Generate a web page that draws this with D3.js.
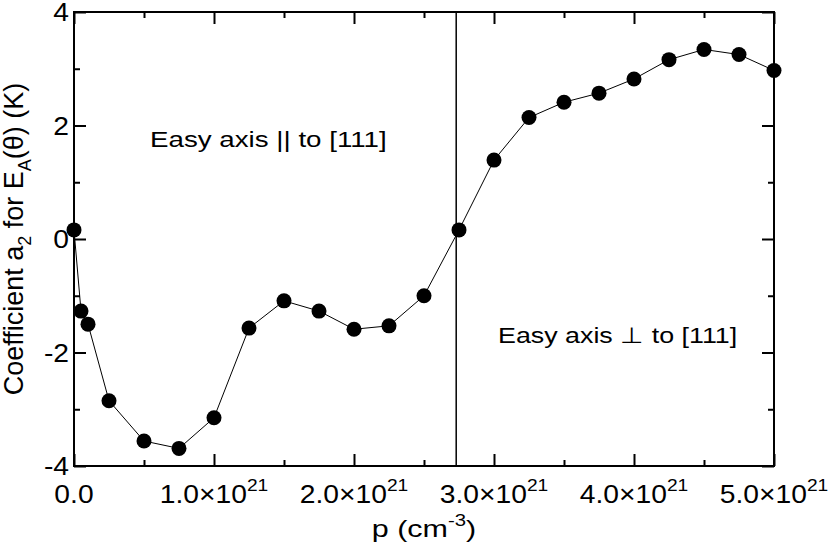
<!DOCTYPE html>
<html lang="en">
<head>
<meta charset="UTF-8">
<title>Coefficient a2 vs hole density</title>
<script src="https://cdn.jsdelivr.net/npm/d3@7"></script>
<style>
  body { margin: 0; background: #fff; }
  svg text { font-family: "Liberation Sans", Arial, Helvetica, sans-serif; fill: #000; }
</style>
</head>
<body>
<div id="chart"></div>
<script>
// hole density p (cm^-3) and fitted coefficient a2 (K)
var pValues = [0, 0.05e21, 0.1e21, 0.25e21, 0.5e21, 0.75e21, 1.0e21, 1.25e21, 1.5e21,
               1.75e21, 2.0e21, 2.25e21, 2.5e21, 2.75e21, 3.0e21, 3.25e21, 3.5e21,
               3.75e21, 4.0e21, 4.25e21, 4.5e21, 4.75e21, 5.0e21];
var a2Values = [0.16, -1.27, -1.50, -2.85, -3.56, -3.69, -3.15, -1.57, -1.09,
                -1.27, -1.59, -1.53, -1.00, 0.16, 1.39, 2.14, 2.41,
                2.57, 2.82, 3.16, 3.34, 3.25, 2.97];

var xMajor = [0, 1e21, 2e21, 3e21, 4e21, 5e21];
var xMinor = [0.5e21, 1.5e21, 2.5e21, 3.5e21, 4.5e21];
var xTickText = ['0.0', '1.0\u00d710', '2.0\u00d710', '3.0\u00d710', '4.0\u00d710', '5.0\u00d710'];
var xTickSup = ['', '21', '21', '21', '21', '21'];
var yMajor = [-4, -2, 0, 2, 4];
var yMinor = [-3, -1, 1, 3];
var boundaryP = 2.73e21;

var W = 830, H = 548;
var margin = {top: 12, right: 56, bottom: 82, left: 74};
var w = W - margin.left - margin.right,
    h = H - margin.top - margin.bottom;

var svg = d3.select('#chart').append('svg')
    .attr('width', W)
    .attr('height', H);
var g = svg.append('g')
    .attr('transform', 'translate(' + margin.left + ',' + margin.top + ')');

var x = d3.scaleLinear().domain([0, 5e21]).range([0, w]);
var y = d3.scaleLinear().domain([-4, 4]).range([h, 0]);

var majorLen = 12, minorLen = 6;
// the original lettering is wider than Liberation Sans
var sx = 1.13;

function place(sel, px, py, s) {
    return sel.attr('transform', 'translate(' + px + ',' + py + ') scale(' + (s || sx) + ',1)');
}

// inward ticks on all four sides
function ticks(axis, vals, len) {
    return axis.tickValues(vals).tickSizeInner(-len).tickSizeOuter(0).tickFormat('');
}
var tickGroups = [
    [d3.axisBottom(x), xMajor, majorLen, 'translate(0,' + h + ')'],
    [d3.axisBottom(x), xMinor, minorLen, 'translate(0,' + h + ')'],
    [d3.axisTop(x), xMajor, majorLen, null],
    [d3.axisTop(x), xMinor, minorLen, null],
    [d3.axisLeft(y), yMajor, majorLen, null],
    [d3.axisLeft(y), yMinor, minorLen, null],
    [d3.axisRight(y), yMajor, majorLen, 'translate(' + w + ',0)'],
    [d3.axisRight(y), yMinor, minorLen, 'translate(' + w + ',0)']
];
tickGroups.forEach(function (t) {
    var ax = g.append('g').call(ticks(t[0], t[1], t[2]));
    if (t[3]) ax.attr('transform', t[3]);
    ax.select('.domain').remove();
    ax.selectAll('line').attr('stroke', '#000').attr('stroke-width', 2);
});

// frame
g.append('rect')
    .attr('width', w)
    .attr('height', h)
    .attr('fill', 'none')
    .attr('stroke', '#000')
    .attr('stroke-width', 2);

// x tick labels
g.selectAll('.xlab')
    .data(xMajor)
    .enter()
    .append('text')
    .attr('class', 'xlab')
    .attr('text-anchor', 'middle')
    .style('font-size', '25px')
    .each(function (d, i) {
        var t = place(d3.select(this), x(d), h + 37);
        t.append('tspan').text(xTickText[i]);
        t.append('tspan')
            .attr('dy', -12)
            .style('font-size', '17px')
            .text(xTickSup[i]);
    });

// y tick labels
g.selectAll('.ylab')
    .data(yMajor)
    .enter()
    .append('text')
    .attr('class', 'ylab')
    .attr('text-anchor', 'end')
    .style('font-size', '25px')
    .text(d => d)
    .each(function (d) {
        place(d3.select(this), -5, y(d) + 9);
    });

// boundary between the two easy-axis regimes
g.append('line')
    .attr('x1', x(boundaryP))
    .attr('x2', x(boundaryP))
    .attr('y1', 0)
    .attr('y2', h)
    .attr('stroke', '#000')
    .attr('stroke-width', 1.5);

// data line and markers
var line = d3.line()
    .x((d, i) => x(pValues[i]))
    .y(d => y(d));
g.append('path')
    .datum(a2Values)
    .attr('d', line)
    .attr('fill', 'none')
    .attr('stroke', '#000')
    .attr('stroke-width', 1);
g.selectAll('.pt')
    .data(a2Values)
    .enter()
    .append('circle')
    .attr('class', 'pt')
    .attr('cx', (d, i) => x(pValues[i]))
    .attr('cy', d => y(d))
    .attr('r', 7.5)
    .attr('fill', '#000');

// annotations
place(g.append('text'), 76, 135, 1.26)
    .style('font-size', '22px')
    .text('Easy axis || to [111]');
place(g.append('text'), 424, 331, 1.22)
    .style('font-size', '22px')
    .text('Easy axis \u22a5 to [111]');

// axis titles
var xt = place(svg.append('text'), 424, 537, 1.27)
    .attr('text-anchor', 'middle')
    .style('font-size', '24px');
xt.append('tspan').text('p (cm');
xt.append('tspan').attr('dy', -11).style('font-size', '16px').text('-3');
xt.append('tspan').attr('dy', 11).text(')');

var yt = svg.append('text')
    .attr('transform', 'translate(23,' + (margin.top + h / 2) + ') rotate(-90)')
    .attr('text-anchor', 'middle')
    .style('font-size', '27px');
yt.append('tspan').text('Coefficient a');
yt.append('tspan').attr('dy', 8).style('font-size', '18px').text('2');
yt.append('tspan').attr('dy', -8).text(' for E');
yt.append('tspan').attr('dy', 8).style('font-size', '18px').text('A');
yt.append('tspan').attr('dy', -8).text('(\u03b8) (K)');
</script>
</body>
</html>
